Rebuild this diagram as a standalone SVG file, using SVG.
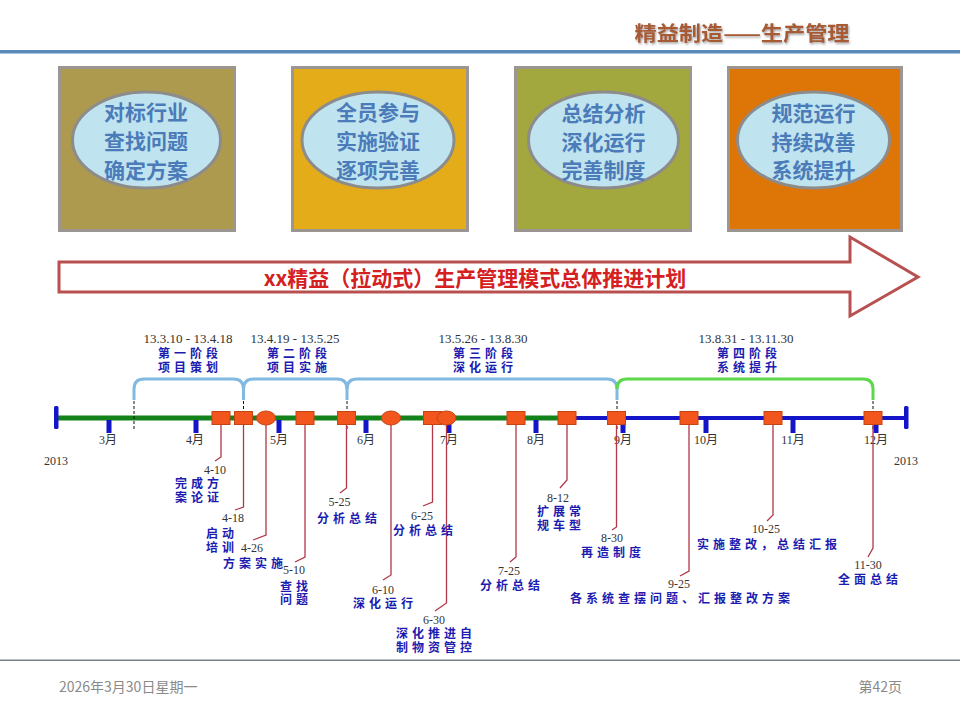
<svg xmlns="http://www.w3.org/2000/svg" width="960" height="720" viewBox="0 0 960 720">
<defs>
<style>
.box{stroke:#9b9691;stroke-width:3}
.ell{fill:#c0e4ef;stroke:#8c8c8c;stroke-width:3}
.et{font-family:"Noto Sans CJK SC",sans-serif;font-weight:bold;font-size:21px;fill:#4b7bb8;text-anchor:middle}
.dt{font-family:"Liberation Serif",serif;font-size:12px;font-weight:normal;fill:#333;text-anchor:middle;letter-spacing:0}
.pd{font-family:"Liberation Serif",serif;font-size:13px;font-weight:normal;fill:#333;text-anchor:middle;letter-spacing:0}
.mo{font-family:"Liberation Serif","Noto Sans CJK SC",serif;font-size:12px;fill:#333;text-anchor:middle}
.lb{font-family:"Noto Sans CJK SC",sans-serif;font-weight:bold;font-size:12px;fill:#1c1cb0;letter-spacing:4px;text-anchor:middle}
.conn{fill:none;stroke:#b03848;stroke-width:1.3}
.sq{fill:#f2561d;stroke:#c44513;stroke-width:1}
.tick{fill:#1414c8}
.dash{stroke:#111;stroke-width:1;stroke-dasharray:3 2}
.brace{fill:none;stroke:#82b9e0;stroke-width:3}
.ft{font-family:"Noto Sans CJK SC",sans-serif;font-size:14px;fill:#8a8a8a}
</style>
<filter id="sh" x="-5%" y="-20%" width="110%" height="150%">
<feDropShadow dx="1" dy="1.5" stdDeviation="0.8" flood-color="#777" flood-opacity="0.7"/>
</filter>
</defs>
<rect width="960" height="720" fill="#fff"/>

<g id="header">
<text x="742" y="41" font-family="'Noto Sans CJK SC',sans-serif" font-weight="bold" font-size="20" fill="#a85a32" text-anchor="middle" textLength="215" lengthAdjust="spacingAndGlyphs" filter="url(#sh)">精益制造——生产管理</text>
<rect x="0" y="50" width="960" height="3.5" fill="#5a8ab8"/>
</g>

<g id="box1">
<rect class="box" x="59.5" y="67.5" width="175" height="163" fill="#ae9a4e"/>
<ellipse class="ell" cx="146.5" cy="140" rx="74" ry="48"/>
<text class="et"><tspan x="146" y="120">对标行业</tspan><tspan x="146" y="149">查找问题</tspan><tspan x="146" y="178">确定方案</tspan></text>
</g>
<g id="box2">
<rect class="box" x="292.5" y="67.5" width="175" height="163" fill="#e5ac1a"/>
<ellipse class="ell" cx="378" cy="140" rx="76" ry="48"/>
<text class="et"><tspan x="378" y="120">全员参与</tspan><tspan x="378" y="149">实施验证</tspan><tspan x="378" y="178">逐项完善</tspan></text>
</g>
<g id="box3">
<rect class="box" x="515.5" y="67.5" width="175" height="163" fill="#a3a83e"/>
<ellipse class="ell" cx="603.5" cy="140" rx="75" ry="48"/>
<text class="et"><tspan x="603.5" y="121">总结分析</tspan><tspan x="603.5" y="150">深化运行</tspan><tspan x="603.5" y="178">完善制度</tspan></text>
</g>
<g id="box4">
<rect class="box" x="728.5" y="67.5" width="173" height="163" fill="#dd7507"/>
<ellipse class="ell" cx="813.5" cy="140" rx="76" ry="48"/>
<text class="et"><tspan x="813.5" y="121">规范运行</tspan><tspan x="813.5" y="150">持续改善</tspan><tspan x="813.5" y="178">系统提升</tspan></text>
</g>

<g id="plan-arrow">
<polygon points="59,262 850,262 850,237 918,277 850,316 850,292 59,292" fill="#fff" stroke="#b85050" stroke-width="3" stroke-linejoin="miter"/>
<text x="475" y="285.5" font-family="'Noto Sans CJK SC',sans-serif" font-weight="bold" font-size="21" fill="#d42020" text-anchor="middle">xx精益（拉动式）生产管理模式总体推进计划</text>
</g>

<g id="phases">
<path class="brace" d="M134,400 V389 Q134,379 144,379 H233.5 Q243.5,379 243.5,389 V400"/>
<path class="brace" d="M243.5,389 Q243.5,379 253.5,379 H337 Q347,379 347,389 V400"/>
<path class="brace" d="M347,389 Q347,379 357,379 H607 Q617,379 617,389 V400"/>
<path class="brace" style="stroke:#5cd84a" d="M617,389 Q617,379 627,379 H863 Q873,379 873,389 V400"/>
<text class="lb"><tspan class="pd" x="188" y="343">13.3.10 - 13.4.18</tspan><tspan x="190" y="357.5">第一阶段</tspan><tspan x="190" y="371.5">项目策划</tspan></text>
<text class="lb"><tspan class="pd" x="295" y="343">13.4.19 - 13.5.25</tspan><tspan x="299" y="357.5">第二阶段</tspan><tspan x="299" y="371.5">项目实施</tspan></text>
<text class="lb"><tspan class="pd" x="483" y="343">13.5.26 - 13.8.30</tspan><tspan x="485" y="357.5">第三阶段</tspan><tspan x="485" y="371.5">深化运行</tspan></text>
<text class="lb"><tspan class="pd" x="746" y="343">13.8.31 - 13.11.30</tspan><tspan x="749" y="357.5">第四阶段</tspan><tspan x="749" y="371.5">系统提升</tspan></text>
</g>

<g id="timeline">
<rect x="56" y="415.5" width="511" height="5" fill="#14821a"/>
<rect x="567" y="416" width="339" height="4" fill="#1414c8"/>
<rect class="tick" x="54" y="406" width="4.5" height="23" rx="1.5"/>
<rect class="tick" x="904" y="406" width="4.5" height="23" rx="1.5"/>
<rect class="tick" x="106.5" y="420" width="5" height="13"/>
<rect class="tick" x="193.5" y="420" width="5" height="13"/>
<rect class="tick" x="276.5" y="420" width="5" height="13"/>
<rect class="tick" x="363.5" y="420" width="5" height="13"/>
<rect class="tick" x="446.5" y="420" width="5" height="13"/>
<rect class="tick" x="533.5" y="420" width="5" height="13"/>
<rect class="tick" x="620.5" y="420" width="5" height="13"/>
<rect class="tick" x="703.5" y="420" width="5" height="13"/>
<rect class="tick" x="790.5" y="420" width="5" height="13"/>
<rect class="tick" x="873.5" y="420" width="5" height="13"/>
<text class="mo" x="108" y="444">3月</text>
<text class="mo" x="195" y="444">4月</text>
<text class="mo" x="279" y="444">5月</text>
<text class="mo" x="366" y="444">6月</text>
<text class="mo" x="449" y="444">7月</text>
<text class="mo" x="536" y="444">8月</text>
<text class="mo" x="623" y="444">9月</text>
<text class="mo" x="706" y="444">10月</text>
<text class="mo" x="793" y="444">11月</text>
<text class="mo" x="876" y="444">12月</text>
<text class="dt" x="56" y="465">2013</text>
<text class="dt" x="906" y="465">2013</text>
<line class="dash" x1="134" y1="401" x2="134" y2="431"/>
<line class="dash" x1="243.5" y1="401" x2="243.5" y2="431"/>
<line class="dash" x1="347" y1="401" x2="347" y2="431"/>
<line class="dash" x1="617" y1="401" x2="617" y2="431"/>
<line class="dash" x1="873" y1="401" x2="873" y2="431"/>
</g>

<g id="connectors">
<polyline class="conn" points="221,424 221,457 215,461"/>
<polyline class="conn" points="243.5,424 243.5,507 235,510"/>
<polyline class="conn" points="266,425 266,535 253,540"/>
<polyline class="conn" points="305,424 305,557 295,562"/>
<polyline class="conn" points="346.5,424 346.5,488 340,493"/>
<polyline class="conn" points="391,425 391,575 383,580"/>
<polyline class="conn" points="432.5,424 432.5,502 423,506"/>
<polyline class="conn" points="446.5,425 446.5,603 435,611"/>
<polyline class="conn" points="516,424 516,557 510,562"/>
<polyline class="conn" points="567,424 567,480 560,488"/>
<polyline class="conn" points="616.5,424 616.5,527 612,530"/>
<polyline class="conn" points="689,424 689,571 680,576"/>
<polyline class="conn" points="773,424 773,515 767,521"/>
<polyline class="conn" points="873,424 873,548 868,557"/>
</g>

<g id="m-0410"><rect class="sq" x="212" y="411.5" width="18" height="13"/><text class="lb"><tspan class="dt" x="215" y="474">4-10</tspan><tspan x="199" y="487.5">完成方</tspan><tspan x="199" y="501.5">案论证</tspan></text></g>
<g id="m-0418"><rect class="sq" x="234.5" y="411.5" width="18" height="13"/><text class="lb"><tspan class="dt" x="233" y="522">4-18</tspan><tspan x="222" y="537.5">启动</tspan><tspan x="222" y="551.5">培训</tspan></text></g>
<g id="m-0426"><ellipse class="sq" cx="266" cy="418" rx="9.5" ry="7"/><text class="lb"><tspan class="dt" x="252" y="552">4-26</tspan><tspan x="255" y="567.5">方案实施</tspan></text></g>
<g id="m-0510"><rect class="sq" x="296" y="411.5" width="18" height="13"/><text class="lb"><tspan class="dt" x="294" y="574">5-10</tspan><tspan x="296" y="590.5">查找</tspan><tspan x="296" y="603.5">问题</tspan></text></g>
<g id="m-0525"><rect class="sq" x="337.5" y="411.5" width="18" height="13"/><text class="lb"><tspan class="dt" x="339.5" y="506">5-25</tspan><tspan x="349" y="522.5">分析总结</tspan></text></g>
<g id="m-0610"><ellipse class="sq" cx="391" cy="418" rx="9.5" ry="7"/><text class="lb"><tspan class="dt" x="383" y="594">6-10</tspan><tspan x="385" y="607.5">深化运行</tspan></text></g>
<g id="m-0625"><rect class="sq" x="423.5" y="411.5" width="18" height="13"/><text class="lb"><tspan class="dt" x="422" y="520">6-25</tspan><tspan x="425" y="534.5">分析总结</tspan></text></g>
<g id="m-0630"><ellipse class="sq" cx="446.5" cy="418" rx="9.5" ry="7"/><text class="lb"><tspan class="dt" x="434" y="624">6-30</tspan><tspan x="436" y="637.5">深化推进自</tspan><tspan x="436" y="651.5">制物资管控</tspan></text></g>
<g id="m-0725"><rect class="sq" x="507" y="411.5" width="18" height="13"/><text class="lb"><tspan class="dt" x="509" y="575">7-25</tspan><tspan x="512" y="589.5">分析总结</tspan></text></g>
<g id="m-0812"><rect class="sq" x="558" y="411.5" width="18" height="13"/><text class="lb"><tspan class="dt" x="558" y="502">8-12</tspan><tspan x="561" y="515.5">扩展常</tspan><tspan x="561" y="529.5">规车型</tspan></text></g>
<g id="m-0830"><rect class="sq" x="607.5" y="411.5" width="18" height="13"/><text class="lb"><tspan class="dt" x="612" y="542">8-30</tspan><tspan x="613" y="556.5">再造制度</tspan></text></g>
<g id="m-0925"><rect class="sq" x="680" y="411.5" width="18" height="13"/><text class="lb"><tspan class="dt" x="679" y="588">9-25</tspan><tspan x="682" y="602.5">各系统查摆问题、汇报整改方案</tspan></text></g>
<g id="m-1025"><rect class="sq" x="764" y="411.5" width="18" height="13"/><text class="lb"><tspan class="dt" x="766" y="533">10-25</tspan><tspan x="769" y="548.5">实施整改，总结汇报</tspan></text></g>
<g id="m-1130"><rect class="sq" x="864" y="411.5" width="18" height="13"/><text class="lb"><tspan class="dt" x="868" y="569">11-30</tspan><tspan x="870" y="583.5">全面总结</tspan></text></g>

<g id="footer">
<rect x="0" y="659.5" width="960" height="1.5" fill="#7a8088"/>
<text class="ft" x="59" y="692">2026年3月30日星期一</text>
<text class="ft" x="902" y="692" text-anchor="end">第42页</text>
</g>
</svg>
